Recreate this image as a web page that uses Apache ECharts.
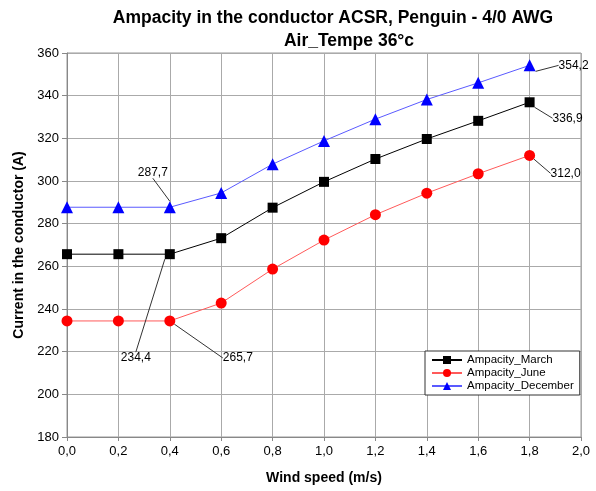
<!DOCTYPE html>
<html><head><meta charset="utf-8">
<script src="https://cdn.jsdelivr.net/npm/echarts@6/dist/echarts.min.js"></script>
<style>html,body{margin:0;padding:0;background:#fff}#c{width:596px;height:491px}</style>
</head><body><div id="c"></div>
<script>
const windSpeed = [0.0, 0.2, 0.4, 0.6, 0.8, 1.0, 1.2, 1.4, 1.6, 1.8];
const march    = [265.7, 265.7, 265.7, 273.2, 287.5, 299.6, 310.3, 319.7, 328.2, 336.9];
const june     = [234.4, 234.4, 234.4, 242.8, 258.7, 272.3, 284.2, 294.3, 303.4, 312.0];
const december = [287.7, 287.7, 287.7, 294.4, 307.9, 318.8, 329.0, 338.2, 346.0, 354.2];
const seriesNames = ['Ampacity_March', 'Ampacity_June', 'Ampacity_December'];
const titleLines = ['Ampacity in the conductor ACSR, Penguin - 4/0 AWG', 'Air_Tempe 36°c'];
// annotations: [seriesIndex, dataIndex, text]
const annotations = [
  [2, 2, '287,7'],
  [0, 2, '234,4'],
  [1, 2, '265,7'],
  [2, 9, '354,2'],
  [0, 9, '336,9'],
  [1, 9, '312,0']
];
const annOffsets = {'2_2':[-17,-35], '0_2':[-34,104], '1_2':[68,37], '2_9':[44,0], '0_9':[38,16], '1_9':[36,18]};

const fmt = v => v.toFixed(1).replace('.', ',');
const FONT = 'Liberation Sans, Arial, sans-serif';

function buildData(vals, si) {
  return vals.map((v, i) => {
    const a = annotations.find(x => x[0] === si && x[1] === i);
    const item = { value: [windSpeed[i], v] };
    if (a) item.label = { show: true, formatter: a[2] };
    return item;
  });
}
const styles = [
  { line: '#000000', item: '#000000', symbol: 'rect', size: 10 },
  { line: '#ff5a5a', item: '#ff0000', symbol: 'circle', size: 11 },
  { line: '#5a5aff', item: '#0000ff', symbol: 'triangle', size: 12 }
];
const all = [march, june, december];
const titleStyle = { fontFamily: FONT, fontSize: 17.5, fontWeight: 'bold', color: '#000' };

const chart = echarts.init(document.getElementById('c'), null, { renderer: 'canvas' });
chart.setOption({
  animation: false,
  backgroundColor: '#fff',
  textStyle: { fontFamily: FONT },
  title: [
    { text: titleLines[0], left: 333, top: 9, textAlign: 'center', padding: 0, textStyle: titleStyle },
    { text: titleLines[1], left: 349, top: 32, textAlign: 'center', padding: 0, textStyle: titleStyle }
  ],
  legend: {
    orient: 'vertical', left: 425, top: 351,
    data: seriesNames,
    backgroundColor: '#fff', borderColor: '#333', borderWidth: 1,
    padding: [3, 6, 3, 6], itemGap: 1, itemWidth: 30, itemHeight: 10,
    textStyle: { fontFamily: FONT, fontSize: 11.5, color: '#000' }
  },
  grid: { left: 67, right: 15, top: 53, bottom: 54, show: true, borderColor: '#999', borderWidth: 1 },
  xAxis: {
    type: 'value', min: 0, max: 2, interval: 0.2,
    name: 'Wind speed (m/s)', nameLocation: 'middle', nameGap: 34,
    nameTextStyle: { fontFamily: FONT, fontSize: 14, fontWeight: 'bold', color: '#000' },
    axisLine: { lineStyle: { color: '#888' } },
    axisTick: { show: true, inside: false, length: 4, lineStyle: { color: '#888' } },
    axisLabel: { formatter: fmt, color: '#000', fontSize: 13, margin: 8 },
    splitLine: { show: true, lineStyle: { color: '#aaa' } }
  },
  yAxis: {
    type: 'value', min: 180, max: 360, interval: 20,
    name: 'Current in the conductor (A)', nameLocation: 'middle', nameGap: 40,
    nameTextStyle: { fontFamily: FONT, fontSize: 14, fontWeight: 'bold', color: '#000' },
    axisLine: { show: true, lineStyle: { color: '#888' } },
    axisTick: { show: true, inside: false, length: 5, lineStyle: { color: '#888' } },
    axisLabel: { color: '#000', fontSize: 13, margin: 8 },
    splitLine: { show: true, lineStyle: { color: '#aaa' } }
  },
  series: all.map((vals, si) => ({
    name: seriesNames[si], type: 'line',
    data: buildData(vals, si),
    symbol: styles[si].symbol, symbolSize: styles[si].size,
    itemStyle: { color: styles[si].item },
    lineStyle: { color: styles[si].line, width: 1 },
    label: { show: false, position: 'inside', color: '#000', fontSize: 12, fontFamily: FONT },
    labelLine: { show: true, lineStyle: { color: '#333', width: 1 } },
    labelLayout: p => {
      const o = annOffsets[si + '_' + p.dataIndex];
      return o ? { dx: o[0], dy: o[1] } : {};
    },
    z: 3 - si
  }))
});
</script></body></html>
